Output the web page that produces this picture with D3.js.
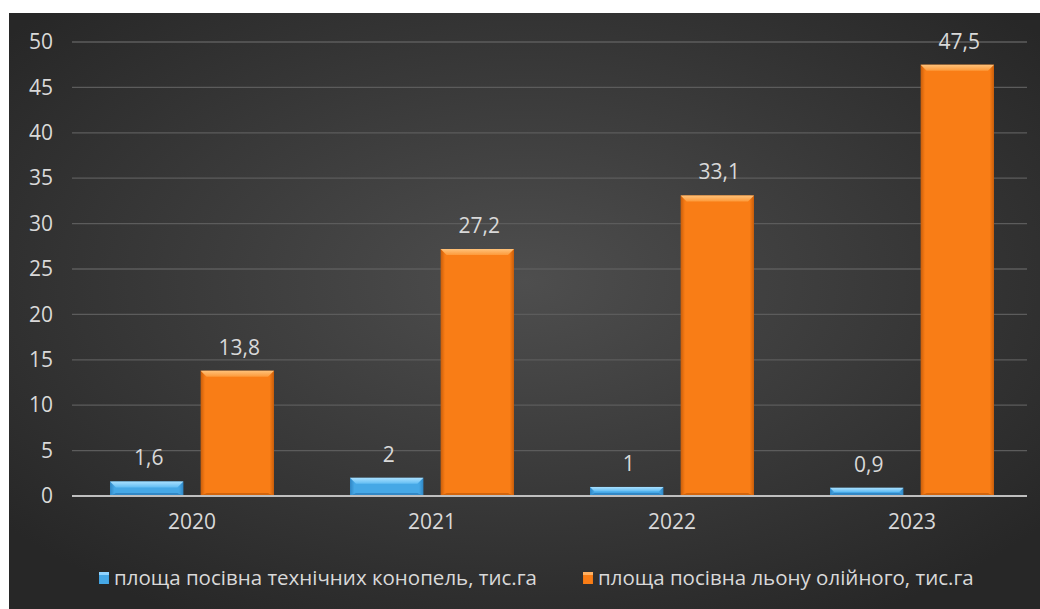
<!DOCTYPE html>
<html><head><meta charset="utf-8">
<script src="https://cdn.jsdelivr.net/npm/d3@7"></script>
<style>html,body{margin:0;padding:0;background:#fff}svg{display:block}</style>
</head><body>
<script>
const years = ["2020","2021","2022","2023"];
const hempArea = [1.6, 2, 1, 0.9];
const flaxArea = [13.8, 27.2, 33.1, 47.5];
const seriesNames = ["площа посівна технічних конопель, тис.га", "площа посівна льону олійного, тис.га"];
const yTicks = [0,5,10,15,20,25,30,35,40,45,50];

const W = 1040, H = 609;
const svg = d3.select("body").append("svg").attr("width", W).attr("height", H);
const defs = svg.append("defs");

const rg = defs.append("radialGradient").attr("id","bg").attr("cx","50%").attr("cy","45%").attr("r","65%");
rg.append("stop").attr("offset","0%").attr("stop-color","#4e4e4e");
rg.append("stop").attr("offset","100%").attr("stop-color","#272727");

function barGrad(id, edge, mid){
  const g = defs.append("linearGradient").attr("id",id).attr("x1","0").attr("x2","1").attr("y1","0").attr("y2","0");
  g.append("stop").attr("offset","0%").attr("stop-color",edge);
  g.append("stop").attr("offset","6%").attr("stop-color",mid);
  g.append("stop").attr("offset","94%").attr("stop-color",mid);
  g.append("stop").attr("offset","100%").attr("stop-color",edge);
}
barGrad("gBlue", "#2f86c4", "#46a8e6");
barGrad("gOrange", "#c85d0a", "#f97d16");
function topGrad(id, a, b){
  const g = defs.append("linearGradient").attr("id",id).attr("x1","0").attr("x2","0").attr("y1","0").attr("y2","1");
  g.append("stop").attr("offset","0%").attr("stop-color",a);
  g.append("stop").attr("offset","100%").attr("stop-color",b);
}
topGrad("tBlue","#a9e0ff","#62bdf3");
topGrad("tOrange","#ffc27a","#fd9a3a");

svg.append("rect").attr("x",9).attr("y",13).attr("width",W-9).attr("height",H-13).attr("fill","url(#bg)");

const plotL = 72, plotR = 1032, gridR = 1027;
const y = d3.scaleLinear().domain([0,50]).range([496,42]);
const x0 = d3.scaleBand().domain(years).range([plotL, plotR]).padding(0);
const groupW = 164;
const x1 = d3.scaleBand().domain([0,1]).range([0, groupW]).paddingInner(0.19).paddingOuter(0);

const yAxis = d3.axisLeft(y).tickValues(yTicks).tickSize(0).tickPadding(19).tickFormat(d3.format("d"));
const ga = svg.append("g").attr("transform",`translate(${plotL},0)`).call(yAxis);
ga.select(".domain").remove();
ga.selectAll("text").attr("font-family","Open Sans").attr("font-size",21).attr("fill","#d9d9d9");
svg.append("g").selectAll("line").data(yTicks.filter(d=>d>0)).join("line")
  .attr("x1",plotL).attr("x2",gridR).attr("y1",d=>y(d)).attr("y2",d=>y(d))
  .attr("stroke","#5c5c5c").attr("stroke-width",1.3);

const series = [
  {vals: hempArea, fill:"url(#gBlue)", top:"url(#tBlue)", bottom:"#2a7ab8"},
  {vals: flaxArea, fill:"url(#gOrange)", top:"url(#tOrange)", bottom:"#c25a08"}
];
const off = (x0.bandwidth() - groupW)/2;
series.forEach((s, si) => {
  const g = svg.append("g");
  years.forEach((yr, i) => {
    const v = s.vals[i];
    const bx = x0(yr) + off + x1(si), bw = x1.bandwidth();
    const by = y(v), bh = y(0) - y(v);
    g.append("rect").attr("x",bx).attr("y",by).attr("width",bw).attr("height",bh).attr("fill",s.fill);
    const bev = Math.min(6, bh/2);
    g.append("path").attr("d",`M${bx},${by}L${bx+bw},${by}L${bx+bw-bev},${by+bev}L${bx+bev},${by+bev}Z`).attr("fill",s.top);
    g.append("path").attr("d",`M${bx},${by+bh}L${bx+bw},${by+bh}L${bx+bw-bev},${by+bh-Math.min(3,bev)}L${bx+bev},${by+bh-Math.min(3,bev)}Z`).attr("fill",s.bottom).attr("opacity",0.7);
    svg.append("text").attr("x",bx+bw/2+2).attr("y",by-16).attr("text-anchor","middle")
      .attr("font-family","Open Sans").attr("font-size",21).attr("fill","#d9d9d9")
      .text(String(v).replace(".",","));
  });
});

svg.append("line").attr("x1",plotL).attr("x2",gridR).attr("y1",y(0)).attr("y2",y(0)).attr("stroke","#bfbfbf").attr("stroke-width",2);
const xAxis = d3.axisBottom(x0).tickSize(0).tickPadding(18);
const gx = svg.append("g").attr("transform",`translate(0,${y(0)})`).call(xAxis);
gx.select(".domain").remove();
gx.selectAll("text").attr("font-family","Open Sans").attr("font-size",21).attr("fill","#d9d9d9");

const leg = [{x:99, grad:"url(#gBlue)", top:"#8fd3ff", name:seriesNames[0]},{x:583, grad:"url(#gOrange)", top:"#ffb061", name:seriesNames[1]}];
leg.forEach(l => {
  svg.append("rect").attr("x",l.x).attr("y",572).attr("width",10).attr("height",12).attr("fill",l.grad);
  svg.append("rect").attr("x",l.x).attr("y",572).attr("width",10).attr("height",3).attr("fill",l.top);
  svg.append("text").attr("x",l.x+15).attr("y",585).attr("font-family","Open Sans").attr("font-size",20.5)
    .attr("fill","#d9d9d9").text(l.name);
});
</script>
</body></html>
